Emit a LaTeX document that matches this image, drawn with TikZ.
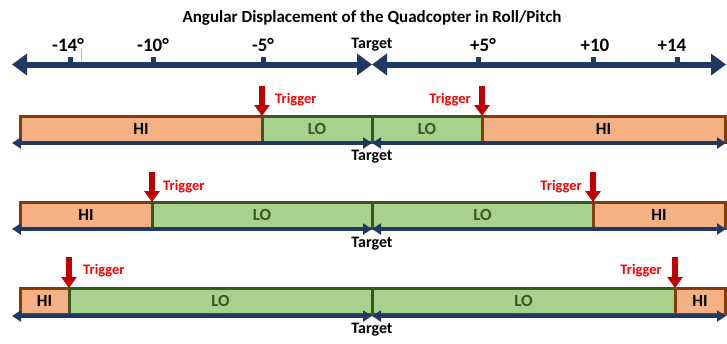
\documentclass[tikz,border=0pt]{standalone}
\usepackage{fontspec}
\setmainfont{Carlito}
\usetikzlibrary{arrows.meta}

\definecolor{navy}{HTML}{203864}
\definecolor{hifill}{HTML}{F4B183}
\definecolor{hiedge}{HTML}{843C0C}
\definecolor{lofill}{HTML}{A9D18E}
\definecolor{loedge}{HTML}{385723}
\definecolor{trigred}{HTML}{C00000}

\tikzset{
  bigaxis/.style={navy, line width=6pt, {Triangle[length=15pt,width=21pt]}-{Triangle[length=15pt,width=21pt]}},
  baraxis/.style={navy, line width=3.5pt, {Triangle[length=9pt,width=11pt]}-{Triangle[length=9pt,width=11pt]}},
  hibox/.style={draw=hiedge, fill=hifill, line width=3pt, minimum height=26pt, inner sep=0pt, outer sep=0pt, anchor=west, font=\fontsize{17}{17}\selectfont\bfseries, text=black},
  lobox/.style={draw=loedge, fill=lofill, line width=3pt, minimum height=26pt, inner sep=0pt, outer sep=0pt, anchor=west, font=\fontsize{17}{17}\selectfont\bfseries, text=loedge},
  trig/.style={trigred, line width=5.5pt, -{Triangle[length=11pt,width=15pt]}},
  triglbl/.style={text=red, font=\fontsize{14.5}{14.5}\selectfont\bfseries, inner sep=0pt},
  ticklbl/.style={font=\fontsize{19}{19}\selectfont\bfseries},
  tgtlbl/.style={font=\fontsize{16}{16}\selectfont\bfseries}
}

\begin{document}
\begin{tikzpicture}[x=1pt, y=-1pt]
\useasboundingbox (0,0) rectangle (727,343);

% Row heights (bar centres and axis lines)
\def\rowa{129}
\def\rowb{215}
\def\rowc{301}
\def\axa{143}
\def\axb{229}
\def\axc{316}

% Title and top scale
\node[font=\fontsize{17}{17}\selectfont\bfseries] (title) at (372,18) {Angular Displacement of the Quadcopter in Roll/Pitch};
\node[ticklbl] (m14) at (68,45) {-14°};
\node[ticklbl] (m10) at (153,45) {-10°};
\node[ticklbl] (m5) at (263,45) {-5°};
\node[tgtlbl] (tgt0) at (372,45) {Target};
\node[ticklbl] (p5) at (483,45) {+5°};
\node[ticklbl] (p10) at (595,45) {+10};
\node[ticklbl] (p14) at (672,45) {+14};

\foreach \tx in {70,153,263,478,593,677}
  \fill[navy] (\tx-2.5,56.5) rectangle (\tx+2.5,62);
\draw[gray!55, line width=1pt] (81,48) -- (81,63);

\coordinate (axL) at (12,64.5);
\coordinate (axT) at (372,64.5);
\coordinate (axR) at (726,64.5);
\draw[bigaxis] (axL) -- (axT);
\draw[bigaxis] (axT) -- (axR);

% First row - trigger at -5 / +5
\node[hibox, minimum width=242pt] (hiA) at (20,\rowa) {HI};
\node[lobox, minimum width=110pt] (loA) at (262,\rowa) {LO};
\node[lobox, minimum width=110pt] (loB) at (372,\rowa) {LO};
\node[hibox, minimum width=243pt] (hiB) at (482,\rowa) {HI};
\coordinate (aL) at (12,\axa);
\coordinate (aT) at (372,\axa);
\coordinate (aR) at (726,\axa);
\draw[baraxis] (aL) -- (aT);
\draw[baraxis] (aT) -- (aR);
\node[tgtlbl] (tgtA) at (372,157) {Target};
\coordinate (tA) at (262,86);
\coordinate (tB) at (482,86);
\draw[trig] (tA) -- (loA.north west);
\draw[trig] (tB) -- (hiB.north west);
\node[triglbl, anchor=west] (trA) at (275,100) {Trigger};
\node[triglbl, anchor=east] (trB) at (471,100) {Trigger};

% Second row - trigger at -10 / +10
\node[hibox, minimum width=132pt] (hiC) at (20,\rowb) {HI};
\node[lobox, minimum width=220pt] (loC) at (152,\rowb) {LO};
\node[lobox, minimum width=221pt] (loD) at (372,\rowb) {LO};
\node[hibox, minimum width=132pt] (hiD) at (593,\rowb) {HI};
\coordinate (bL) at (12,\axb);
\coordinate (bT) at (372,\axb);
\coordinate (bR) at (726,\axb);
\draw[baraxis] (bL) -- (bT);
\draw[baraxis] (bT) -- (bR);
\node[tgtlbl] (tgtB) at (372,244) {Target};
\coordinate (tC) at (152,172);
\coordinate (tD) at (593,172);
\draw[trig] (tC) -- (loC.north west);
\draw[trig] (tD) -- (hiD.north west);
\node[triglbl, anchor=west] (trC) at (163,187) {Trigger};
\node[triglbl, anchor=east] (trD) at (582,187) {Trigger};

% Third row - trigger at -14 / +14
\node[hibox, minimum width=49pt] (hiE) at (20,\rowc) {HI};
\node[lobox, minimum width=303pt] (loE) at (69,\rowc) {LO};
\node[lobox, minimum width=303pt] (loF) at (372,\rowc) {LO};
\node[hibox, minimum width=50pt] (hiF) at (675,\rowc) {HI};
\coordinate (cL) at (12,\axc);
\coordinate (cT) at (372,\axc);
\coordinate (cR) at (726,\axc);
\draw[baraxis] (cL) -- (cT);
\draw[baraxis] (cT) -- (cR);
\node[tgtlbl] (tgtC) at (372,330) {Target};
\coordinate (tE) at (69,257);
\coordinate (tF) at (675,257);
\draw[trig] (tE) -- (loE.north west);
\draw[trig] (tF) -- (hiF.north west);
\node[triglbl, anchor=west] (trE) at (83,271) {Trigger};
\node[triglbl, anchor=east] (trF) at (662,271) {Trigger};

\end{tikzpicture}
\end{document}
